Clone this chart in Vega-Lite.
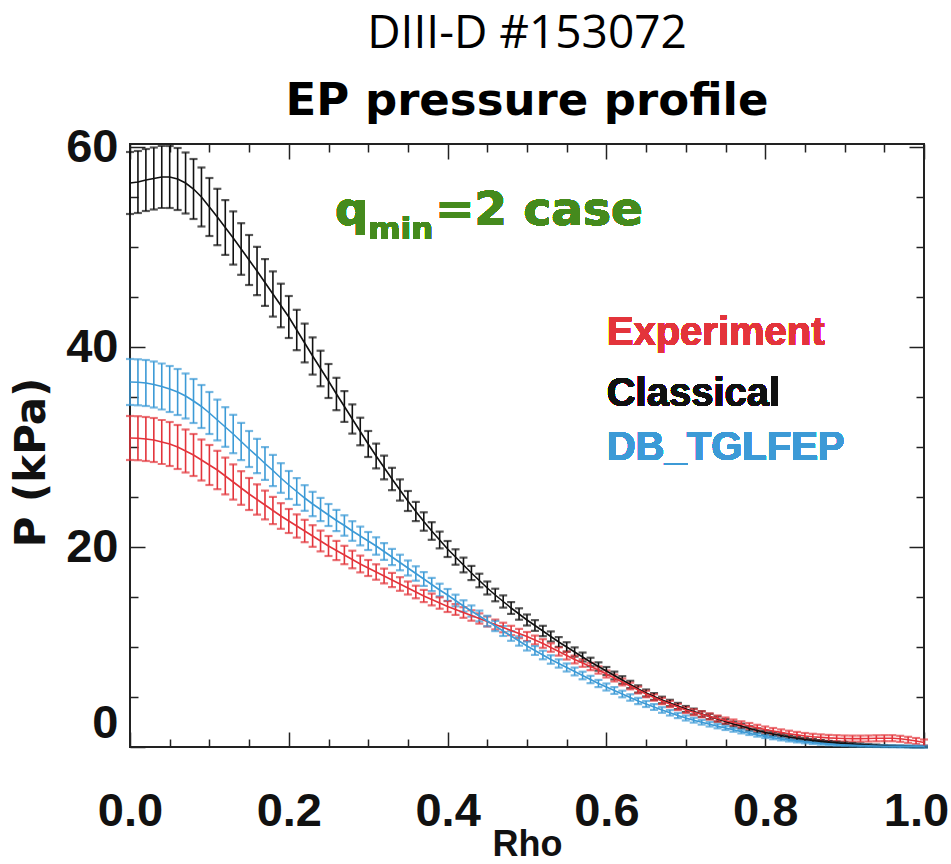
{
"$schema":"https://vega.github.io/schema/vega-lite/v6.json",
"width":794,"height":603,
"autosize":{"type":"none"},
"padding":{"left":130,"top":144,"right":27,"bottom":117},
"background":"white",
"title":{"text":"DIII-D #153072","subtitle":"EP pressure profile","anchor":"middle","frame":"group","font":"Open Sans","fontSize":46,"fontWeight":"normal","color":"#000","subtitleFont":"DejaVu Sans","subtitleFontSize":45,"subtitleFontWeight":"bold","subtitleColor":"#000","subtitlePadding":21,"offset":-2},
"config":{"view":{"stroke":"#222","strokeWidth":2},"axis":{"domain":false,"grid":false,"tickColor":"#222","tickWidth":1.5,"labelColor":"#111","titleColor":"#111"}},
"data":{"values":[
{"s":"Classical","x":0,"y":56.4,"e":3.1},{"s":"Classical","x":0.01,"y":56.5,"e":3.1},{"s":"Classical","x":0.02,"y":56.7,"e":3.1},{"s":"Classical","x":0.03,"y":56.85,"e":3.1},{"s":"Classical","x":0.04,"y":57.0,"e":3.1},{"s":"Classical","x":0.05,"y":57.0,"e":3.1},{"s":"Classical","x":0.06,"y":56.8,"e":3.1},{"s":"Classical","x":0.07,"y":56.4,"e":3.05},{"s":"Classical","x":0.08,"y":55.8,"e":3.0},{"s":"Classical","x":0.09,"y":55.0,"e":2.95},
{"s":"Classical","x":0.1,"y":54.0,"e":2.9},{"s":"Classical","x":0.11,"y":53.0,"e":2.82},{"s":"Classical","x":0.12,"y":51.95,"e":2.74},{"s":"Classical","x":0.13,"y":50.9,"e":2.66},{"s":"Classical","x":0.14,"y":49.8,"e":2.58},{"s":"Classical","x":0.15,"y":48.7,"e":2.5},{"s":"Classical","x":0.16,"y":47.6,"e":2.42},{"s":"Classical","x":0.17,"y":46.45,"e":2.34},{"s":"Classical","x":0.18,"y":45.3,"e":2.26},{"s":"Classical","x":0.19,"y":44.15,"e":2.18},
{"s":"Classical","x":0.2,"y":43.0,"e":2.1},{"s":"Classical","x":0.21,"y":41.7,"e":2.02},{"s":"Classical","x":0.22,"y":40.4,"e":1.94},{"s":"Classical","x":0.23,"y":39.1,"e":1.86},{"s":"Classical","x":0.24,"y":37.85,"e":1.78},{"s":"Classical","x":0.25,"y":36.6,"e":1.7},{"s":"Classical","x":0.26,"y":35.3,"e":1.62},{"s":"Classical","x":0.27,"y":34.05,"e":1.54},{"s":"Classical","x":0.28,"y":32.8,"e":1.46},{"s":"Classical","x":0.29,"y":31.55,"e":1.38},
{"s":"Classical","x":0.3,"y":30.3,"e":1.3},{"s":"Classical","x":0.31,"y":29.1,"e":1.24},{"s":"Classical","x":0.32,"y":27.95,"e":1.18},{"s":"Classical","x":0.33,"y":26.8,"e":1.12},{"s":"Classical","x":0.34,"y":25.7,"e":1.06},{"s":"Classical","x":0.35,"y":24.6,"e":1.0},{"s":"Classical","x":0.36,"y":23.55,"e":0.96},{"s":"Classical","x":0.37,"y":22.55,"e":0.92},{"s":"Classical","x":0.38,"y":21.6,"e":0.88},{"s":"Classical","x":0.39,"y":20.7,"e":0.84},
{"s":"Classical","x":0.4,"y":19.8,"e":0.8},{"s":"Classical","x":0.41,"y":19.0,"e":0.77},{"s":"Classical","x":0.42,"y":18.2,"e":0.74},{"s":"Classical","x":0.43,"y":17.4,"e":0.71},{"s":"Classical","x":0.44,"y":16.65,"e":0.68},{"s":"Classical","x":0.45,"y":15.9,"e":0.65},{"s":"Classical","x":0.46,"y":15.2,"e":0.63},{"s":"Classical","x":0.47,"y":14.55,"e":0.61},{"s":"Classical","x":0.48,"y":13.9,"e":0.59},{"s":"Classical","x":0.49,"y":13.3,"e":0.57},
{"s":"Classical","x":0.5,"y":12.7,"e":0.55},{"s":"Classical","x":0.51,"y":12.15,"e":0.535},{"s":"Classical","x":0.52,"y":11.6,"e":0.52},{"s":"Classical","x":0.53,"y":11.05,"e":0.505},{"s":"Classical","x":0.54,"y":10.5,"e":0.49},{"s":"Classical","x":0.55,"y":10.0,"e":0.475},{"s":"Classical","x":0.56,"y":9.5,"e":0.46},{"s":"Classical","x":0.57,"y":9.0,"e":0.445},{"s":"Classical","x":0.58,"y":8.5,"e":0.43},{"s":"Classical","x":0.59,"y":8.05,"e":0.415},
{"s":"Classical","x":0.6,"y":7.6,"e":0.4},{"s":"Classical","x":0.61,"y":7.15,"e":0.39},{"s":"Classical","x":0.62,"y":6.7,"e":0.38},{"s":"Classical","x":0.63,"y":6.25,"e":0.37},{"s":"Classical","x":0.64,"y":5.8,"e":0.36},{"s":"Classical","x":0.65,"y":5.4,"e":0.35},{"s":"Classical","x":0.66,"y":5.05,"e":0.34},{"s":"Classical","x":0.67,"y":4.7,"e":0.33},{"s":"Classical","x":0.68,"y":4.4,"e":0.32},{"s":"Classical","x":0.69,"y":4.1,"e":0.31},
{"s":"Classical","x":0.7,"y":3.8,"e":0.3},{"s":"Classical","x":0.71,"y":3.55,"e":0.29},{"s":"Classical","x":0.72,"y":3.3,"e":0.28},{"s":"Classical","x":0.73,"y":3.05,"e":0.27},{"s":"Classical","x":0.74,"y":2.8,"e":0.26},{"s":"Classical","x":0.75,"y":2.55,"e":0.25},{"s":"Classical","x":0.76,"y":2.3,"e":0.24},{"s":"Classical","x":0.77,"y":2.1,"e":0.23},{"s":"Classical","x":0.78,"y":1.85,"e":0.22},{"s":"Classical","x":0.79,"y":1.65,"e":0.21},
{"s":"Classical","x":0.8,"y":1.45,"e":0.2},{"s":"Classical","x":0.81,"y":1.3,"e":0.19},{"s":"Classical","x":0.82,"y":1.15,"e":0.18},{"s":"Classical","x":0.83,"y":1.0,"e":0.17},{"s":"Classical","x":0.84,"y":0.87,"e":0.16},{"s":"Classical","x":0.85,"y":0.75,"e":0.15},{"s":"Classical","x":0.86,"y":0.65,"e":0.14},{"s":"Classical","x":0.87,"y":0.56,"e":0.13},{"s":"Classical","x":0.88,"y":0.48,"e":0.12},{"s":"Classical","x":0.89,"y":0.41,"e":0.11},
{"s":"Classical","x":0.9,"y":0.35,"e":0.1},{"s":"Classical","x":0.91,"y":0.3,"e":0.095},{"s":"Classical","x":0.92,"y":0.25,"e":0.09},{"s":"Classical","x":0.93,"y":0.2,"e":0.085},{"s":"Classical","x":0.94,"y":0.16,"e":0.08},{"s":"Classical","x":0.95,"y":0.12,"e":0.075},{"s":"Classical","x":0.96,"y":0.09,"e":0.07},{"s":"Classical","x":0.97,"y":0.07,"e":0.065},{"s":"Classical","x":0.98,"y":0.05,"e":0.06},{"s":"Classical","x":0.99,"y":0.03,"e":0.055},{"s":"Classical","x":1.0,"y":0.02,"e":0.05},
{"s":"Experiment","x":0,"y":30.9,"e":2.2},{"s":"Experiment","x":0.01,"y":30.88,"e":2.2},{"s":"Experiment","x":0.02,"y":30.8,"e":2.2},{"s":"Experiment","x":0.03,"y":30.7,"e":2.2},{"s":"Experiment","x":0.04,"y":30.5,"e":2.2},{"s":"Experiment","x":0.05,"y":30.3,"e":2.2},{"s":"Experiment","x":0.06,"y":30.0,"e":2.2},{"s":"Experiment","x":0.07,"y":29.6,"e":2.15},{"s":"Experiment","x":0.08,"y":29.2,"e":2.1},{"s":"Experiment","x":0.09,"y":28.7,"e":2.05},
{"s":"Experiment","x":0.1,"y":28.2,"e":2.0},{"s":"Experiment","x":0.11,"y":27.7,"e":1.92},{"s":"Experiment","x":0.12,"y":27.1,"e":1.84},{"s":"Experiment","x":0.13,"y":26.5,"e":1.76},{"s":"Experiment","x":0.14,"y":25.9,"e":1.68},{"s":"Experiment","x":0.15,"y":25.3,"e":1.6},{"s":"Experiment","x":0.16,"y":24.75,"e":1.52},{"s":"Experiment","x":0.17,"y":24.2,"e":1.44},{"s":"Experiment","x":0.18,"y":23.65,"e":1.36},{"s":"Experiment","x":0.19,"y":23.1,"e":1.28},
{"s":"Experiment","x":0.2,"y":22.6,"e":1.2},{"s":"Experiment","x":0.21,"y":22.1,"e":1.16},{"s":"Experiment","x":0.22,"y":21.6,"e":1.12},{"s":"Experiment","x":0.23,"y":21.1,"e":1.08},{"s":"Experiment","x":0.24,"y":20.6,"e":1.04},{"s":"Experiment","x":0.25,"y":20.1,"e":1.0},{"s":"Experiment","x":0.26,"y":19.65,"e":0.96},{"s":"Experiment","x":0.27,"y":19.2,"e":0.92},{"s":"Experiment","x":0.28,"y":18.75,"e":0.88},{"s":"Experiment","x":0.29,"y":18.3,"e":0.84},
{"s":"Experiment","x":0.3,"y":17.9,"e":0.8},{"s":"Experiment","x":0.31,"y":17.5,"e":0.77},{"s":"Experiment","x":0.32,"y":17.1,"e":0.74},{"s":"Experiment","x":0.33,"y":16.7,"e":0.71},{"s":"Experiment","x":0.34,"y":16.3,"e":0.68},{"s":"Experiment","x":0.35,"y":15.9,"e":0.65},{"s":"Experiment","x":0.36,"y":15.5,"e":0.63},{"s":"Experiment","x":0.37,"y":15.1,"e":0.61},{"s":"Experiment","x":0.38,"y":14.75,"e":0.59},{"s":"Experiment","x":0.39,"y":14.4,"e":0.57},
{"s":"Experiment","x":0.4,"y":14.05,"e":0.55},{"s":"Experiment","x":0.41,"y":13.75,"e":0.54},{"s":"Experiment","x":0.42,"y":13.45,"e":0.53},{"s":"Experiment","x":0.43,"y":13.15,"e":0.52},{"s":"Experiment","x":0.44,"y":12.85,"e":0.51},{"s":"Experiment","x":0.45,"y":12.55,"e":0.5},{"s":"Experiment","x":0.46,"y":12.25,"e":0.49},{"s":"Experiment","x":0.47,"y":11.95,"e":0.48},{"s":"Experiment","x":0.48,"y":11.65,"e":0.47},{"s":"Experiment","x":0.49,"y":11.35,"e":0.46},
{"s":"Experiment","x":0.5,"y":11.05,"e":0.45},{"s":"Experiment","x":0.51,"y":10.7,"e":0.44},{"s":"Experiment","x":0.52,"y":10.35,"e":0.43},{"s":"Experiment","x":0.53,"y":9.95,"e":0.42},{"s":"Experiment","x":0.54,"y":9.55,"e":0.41},{"s":"Experiment","x":0.55,"y":9.15,"e":0.4},{"s":"Experiment","x":0.56,"y":8.75,"e":0.39},{"s":"Experiment","x":0.57,"y":8.4,"e":0.38},{"s":"Experiment","x":0.58,"y":8.05,"e":0.37},{"s":"Experiment","x":0.59,"y":7.7,"e":0.36},
{"s":"Experiment","x":0.6,"y":7.3,"e":0.35},{"s":"Experiment","x":0.61,"y":6.9,"e":0.345},{"s":"Experiment","x":0.62,"y":6.5,"e":0.34},{"s":"Experiment","x":0.63,"y":6.1,"e":0.335},{"s":"Experiment","x":0.64,"y":5.7,"e":0.33},{"s":"Experiment","x":0.65,"y":5.3,"e":0.325},{"s":"Experiment","x":0.66,"y":4.95,"e":0.32},{"s":"Experiment","x":0.67,"y":4.6,"e":0.315},{"s":"Experiment","x":0.68,"y":4.3,"e":0.31},{"s":"Experiment","x":0.69,"y":4.0,"e":0.305},
{"s":"Experiment","x":0.7,"y":3.7,"e":0.3},{"s":"Experiment","x":0.71,"y":3.48,"e":0.3},{"s":"Experiment","x":0.72,"y":3.27,"e":0.3},{"s":"Experiment","x":0.73,"y":3.06,"e":0.3},{"s":"Experiment","x":0.74,"y":2.85,"e":0.3},{"s":"Experiment","x":0.75,"y":2.65,"e":0.3},{"s":"Experiment","x":0.76,"y":2.45,"e":0.3},{"s":"Experiment","x":0.77,"y":2.27,"e":0.3},{"s":"Experiment","x":0.78,"y":2.1,"e":0.3},{"s":"Experiment","x":0.79,"y":1.92,"e":0.3},
{"s":"Experiment","x":0.8,"y":1.75,"e":0.3},{"s":"Experiment","x":0.81,"y":1.6,"e":0.3},{"s":"Experiment","x":0.82,"y":1.46,"e":0.3},{"s":"Experiment","x":0.83,"y":1.33,"e":0.3},{"s":"Experiment","x":0.84,"y":1.21,"e":0.3},{"s":"Experiment","x":0.85,"y":1.1,"e":0.3},{"s":"Experiment","x":0.86,"y":1.02,"e":0.3},{"s":"Experiment","x":0.87,"y":0.96,"e":0.3},{"s":"Experiment","x":0.88,"y":0.91,"e":0.3},{"s":"Experiment","x":0.89,"y":0.88,"e":0.3},
{"s":"Experiment","x":0.9,"y":0.85,"e":0.3},{"s":"Experiment","x":0.91,"y":0.84,"e":0.3},{"s":"Experiment","x":0.92,"y":0.84,"e":0.3},{"s":"Experiment","x":0.93,"y":0.85,"e":0.3},{"s":"Experiment","x":0.94,"y":0.87,"e":0.3},{"s":"Experiment","x":0.95,"y":0.88,"e":0.3},{"s":"Experiment","x":0.96,"y":0.88,"e":0.3},{"s":"Experiment","x":0.97,"y":0.82,"e":0.3},{"s":"Experiment","x":0.98,"y":0.72,"e":0.3},{"s":"Experiment","x":0.99,"y":0.6,"e":0.3},{"s":"Experiment","x":1.0,"y":0.45,"e":0.3},
{"s":"DB_TGLFEP","x":0,"y":36.5,"e":2.3},{"s":"DB_TGLFEP","x":0.01,"y":36.47,"e":2.3},{"s":"DB_TGLFEP","x":0.02,"y":36.4,"e":2.3},{"s":"DB_TGLFEP","x":0.03,"y":36.25,"e":2.3},{"s":"DB_TGLFEP","x":0.04,"y":36.05,"e":2.3},{"s":"DB_TGLFEP","x":0.05,"y":35.8,"e":2.3},{"s":"DB_TGLFEP","x":0.06,"y":35.5,"e":2.3},{"s":"DB_TGLFEP","x":0.07,"y":35.1,"e":2.25},{"s":"DB_TGLFEP","x":0.08,"y":34.6,"e":2.2},{"s":"DB_TGLFEP","x":0.09,"y":34.05,"e":2.15},
{"s":"DB_TGLFEP","x":0.1,"y":33.4,"e":2.1},{"s":"DB_TGLFEP","x":0.11,"y":32.7,"e":2.04},{"s":"DB_TGLFEP","x":0.12,"y":32.0,"e":1.98},{"s":"DB_TGLFEP","x":0.13,"y":31.3,"e":1.92},{"s":"DB_TGLFEP","x":0.14,"y":30.55,"e":1.86},{"s":"DB_TGLFEP","x":0.15,"y":29.8,"e":1.8},{"s":"DB_TGLFEP","x":0.16,"y":29.1,"e":1.72},{"s":"DB_TGLFEP","x":0.17,"y":28.35,"e":1.64},{"s":"DB_TGLFEP","x":0.18,"y":27.65,"e":1.56},{"s":"DB_TGLFEP","x":0.19,"y":26.9,"e":1.48},
{"s":"DB_TGLFEP","x":0.2,"y":26.2,"e":1.4},{"s":"DB_TGLFEP","x":0.21,"y":25.55,"e":1.34},{"s":"DB_TGLFEP","x":0.22,"y":24.9,"e":1.28},{"s":"DB_TGLFEP","x":0.23,"y":24.3,"e":1.22},{"s":"DB_TGLFEP","x":0.24,"y":23.75,"e":1.16},{"s":"DB_TGLFEP","x":0.25,"y":23.2,"e":1.1},{"s":"DB_TGLFEP","x":0.26,"y":22.65,"e":1.06},{"s":"DB_TGLFEP","x":0.27,"y":22.15,"e":1.02},{"s":"DB_TGLFEP","x":0.28,"y":21.6,"e":0.98},{"s":"DB_TGLFEP","x":0.29,"y":21.1,"e":0.94},
{"s":"DB_TGLFEP","x":0.3,"y":20.6,"e":0.9},{"s":"DB_TGLFEP","x":0.31,"y":20.1,"e":0.87},{"s":"DB_TGLFEP","x":0.32,"y":19.55,"e":0.84},{"s":"DB_TGLFEP","x":0.33,"y":19.0,"e":0.81},{"s":"DB_TGLFEP","x":0.34,"y":18.45,"e":0.78},{"s":"DB_TGLFEP","x":0.35,"y":17.9,"e":0.75},{"s":"DB_TGLFEP","x":0.36,"y":17.35,"e":0.72},{"s":"DB_TGLFEP","x":0.37,"y":16.8,"e":0.69},{"s":"DB_TGLFEP","x":0.38,"y":16.25,"e":0.66},{"s":"DB_TGLFEP","x":0.39,"y":15.7,"e":0.63},
{"s":"DB_TGLFEP","x":0.4,"y":15.2,"e":0.6},{"s":"DB_TGLFEP","x":0.41,"y":14.65,"e":0.585},{"s":"DB_TGLFEP","x":0.42,"y":14.1,"e":0.57},{"s":"DB_TGLFEP","x":0.43,"y":13.6,"e":0.555},{"s":"DB_TGLFEP","x":0.44,"y":13.1,"e":0.54},{"s":"DB_TGLFEP","x":0.45,"y":12.6,"e":0.525},{"s":"DB_TGLFEP","x":0.46,"y":12.1,"e":0.51},{"s":"DB_TGLFEP","x":0.47,"y":11.6,"e":0.495},{"s":"DB_TGLFEP","x":0.48,"y":11.1,"e":0.48},{"s":"DB_TGLFEP","x":0.49,"y":10.6,"e":0.465},
{"s":"DB_TGLFEP","x":0.5,"y":10.1,"e":0.45},{"s":"DB_TGLFEP","x":0.51,"y":9.65,"e":0.44},{"s":"DB_TGLFEP","x":0.52,"y":9.2,"e":0.43},{"s":"DB_TGLFEP","x":0.53,"y":8.75,"e":0.42},{"s":"DB_TGLFEP","x":0.54,"y":8.35,"e":0.41},{"s":"DB_TGLFEP","x":0.55,"y":7.95,"e":0.4},{"s":"DB_TGLFEP","x":0.56,"y":7.55,"e":0.39},{"s":"DB_TGLFEP","x":0.57,"y":7.15,"e":0.38},{"s":"DB_TGLFEP","x":0.58,"y":6.75,"e":0.37},{"s":"DB_TGLFEP","x":0.59,"y":6.35,"e":0.36},
{"s":"DB_TGLFEP","x":0.6,"y":6.0,"e":0.35},{"s":"DB_TGLFEP","x":0.61,"y":5.65,"e":0.34},{"s":"DB_TGLFEP","x":0.62,"y":5.3,"e":0.33},{"s":"DB_TGLFEP","x":0.63,"y":4.95,"e":0.32},{"s":"DB_TGLFEP","x":0.64,"y":4.6,"e":0.31},{"s":"DB_TGLFEP","x":0.65,"y":4.3,"e":0.3},{"s":"DB_TGLFEP","x":0.66,"y":4.0,"e":0.29},{"s":"DB_TGLFEP","x":0.67,"y":3.7,"e":0.28},{"s":"DB_TGLFEP","x":0.68,"y":3.42,"e":0.27},{"s":"DB_TGLFEP","x":0.69,"y":3.15,"e":0.26},
{"s":"DB_TGLFEP","x":0.7,"y":2.9,"e":0.25},{"s":"DB_TGLFEP","x":0.71,"y":2.68,"e":0.24},{"s":"DB_TGLFEP","x":0.72,"y":2.47,"e":0.23},{"s":"DB_TGLFEP","x":0.73,"y":2.27,"e":0.22},{"s":"DB_TGLFEP","x":0.74,"y":2.08,"e":0.21},{"s":"DB_TGLFEP","x":0.75,"y":1.9,"e":0.2},{"s":"DB_TGLFEP","x":0.76,"y":1.72,"e":0.19},{"s":"DB_TGLFEP","x":0.77,"y":1.54,"e":0.18},{"s":"DB_TGLFEP","x":0.78,"y":1.37,"e":0.17},{"s":"DB_TGLFEP","x":0.79,"y":1.2,"e":0.16},
{"s":"DB_TGLFEP","x":0.8,"y":1.05,"e":0.15},{"s":"DB_TGLFEP","x":0.81,"y":0.92,"e":0.145},{"s":"DB_TGLFEP","x":0.82,"y":0.8,"e":0.14},{"s":"DB_TGLFEP","x":0.83,"y":0.69,"e":0.135},{"s":"DB_TGLFEP","x":0.84,"y":0.59,"e":0.13},{"s":"DB_TGLFEP","x":0.85,"y":0.5,"e":0.125},{"s":"DB_TGLFEP","x":0.86,"y":0.42,"e":0.12},{"s":"DB_TGLFEP","x":0.87,"y":0.35,"e":0.115},{"s":"DB_TGLFEP","x":0.88,"y":0.29,"e":0.11},{"s":"DB_TGLFEP","x":0.89,"y":0.24,"e":0.105},
{"s":"DB_TGLFEP","x":0.9,"y":0.2,"e":0.1},{"s":"DB_TGLFEP","x":0.91,"y":0.17,"e":0.1},{"s":"DB_TGLFEP","x":0.92,"y":0.14,"e":0.1},{"s":"DB_TGLFEP","x":0.93,"y":0.12,"e":0.1},{"s":"DB_TGLFEP","x":0.94,"y":0.1,"e":0.1},{"s":"DB_TGLFEP","x":0.95,"y":0.08,"e":0.1},{"s":"DB_TGLFEP","x":0.96,"y":0.07,"e":0.1},{"s":"DB_TGLFEP","x":0.97,"y":0.06,"e":0.1},{"s":"DB_TGLFEP","x":0.98,"y":0.05,"e":0.1},{"s":"DB_TGLFEP","x":0.99,"y":0.04,"e":0.1},{"s":"DB_TGLFEP","x":1.0,"y":0.03,"e":0.1}
]},
"layer":[
{"mark":{"type":"errorbar","ticks":{"size":8,"thickness":2.2},"thickness":1.6},
 "encoding":{
  "x":{"field":"x","type":"quantitative","scale":{"domain":[0,1],"nice":false,"zero":false},
   "axis":{"orient":"bottom","values":[0,0.05,0.1,0.15,0.2,0.25,0.3,0.35,0.4,0.45,0.5,0.55,0.6,0.65,0.7,0.75,0.8,0.85,0.9,0.95,1],
    "labelExpr":"abs(datum.value*5-round(datum.value*5))<0.001 ? format(datum.value,'.1f') : ''",
    "tickSize":{"condition":{"test":"abs(datum.value*5-round(datum.value*5))<0.001","value":-15},"value":-8},
    "labelOffset":{"condition":{"test":"datum.value > 0.99","value":-8},"value":0},
    "labelFlush":false,"labelOverlap":false,
    "labelFont":"Liberation Sans","labelFontWeight":"bold","labelFontSize":47,"labelPadding":56,
    "title":"Rho","titleFont":"Liberation Sans","titleFontWeight":"bold","titleFontSize":36,"titleBaseline":"alphabetic","titlePadding":14}},
  "y":{"field":"y","type":"quantitative","scale":{"domain":[0,60.3],"nice":false,"zero":false},
   "axis":{"orient":"left","values":[0,5,10,15,20,25,30,35,40,45,50,55,60],
    "labelExpr":"datum.value % 20 === 0 ? datum.label : ''",
    "tickSize":{"condition":{"test":"datum.value % 20 === 0","value":-15},"value":-8},
    "labelFlush":true,"labelOverlap":false,
    "labelFont":"Liberation Sans","labelFontWeight":"bold","labelFontSize":47,"labelPadding":27,
    "title":"P (kPa)","titleFont":"DejaVu Sans","titleFontWeight":"bold","titleFontSize":42,"titlePadding":12,"titleY":318}},
  "yError":{"field":"e"},
  "color":{"field":"s","type":"nominal","scale":{"domain":["Classical","Experiment","DB_TGLFEP"],"range":["#111111","#e3343b","#3c9ad6"]},"legend":null}
 }},
{"mark":{"type":"line","strokeWidth":1.6},
 "encoding":{
  "x":{"field":"x","type":"quantitative","scale":{"domain":[0,1],"nice":false,"zero":false},
   "axis":{"orient":"top","values":[0,0.05,0.1,0.15,0.2,0.25,0.3,0.35,0.4,0.45,0.5,0.55,0.6,0.65,0.7,0.75,0.8,0.85,0.9,0.95,1],"labels":false,"title":null,
    "tickSize":{"condition":{"test":"abs(datum.value*5-round(datum.value*5))<0.001","value":-15},"value":-8}}},
  "y":{"field":"y","type":"quantitative","scale":{"domain":[0,60.3],"nice":false,"zero":false},
   "axis":{"orient":"right","values":[0,5,10,15,20,25,30,35,40,45,50,55,60],"labels":false,"title":null,
    "tickSize":{"condition":{"test":"datum.value % 20 === 0","value":-15},"value":-8}}},
  "color":{"field":"s","type":"nominal","legend":null},
  "detail":{"field":"s"}
 }},
{"mark":{"type":"text","text":"Experiment","align":"left","baseline":"alphabetic","font":"Liberation Sans","fontSize":40,"fontWeight":"bold"},
 "encoding":{"x":{"datum":0.6004,"type":"quantitative","axis":null},"y":{"datum":40.17,"type":"quantitative","axis":null},"color":{"datum":"Experiment","type":"nominal","legend":null}}},
{"mark":{"type":"text","text":"Classical","align":"left","baseline":"alphabetic","font":"Liberation Sans","fontSize":40,"fontWeight":"bold"},
 "encoding":{"x":{"datum":0.6004,"type":"quantitative","axis":null},"y":{"datum":34.07,"type":"quantitative","axis":null},"color":{"datum":"Classical","type":"nominal","legend":null}}},
{"mark":{"type":"text","text":"DB_TGLFEP","align":"left","baseline":"alphabetic","font":"Liberation Sans","fontSize":40,"fontWeight":"bold"},
 "encoding":{"x":{"datum":0.6004,"type":"quantitative","axis":null},"y":{"datum":28.67,"type":"quantitative","axis":null},"color":{"datum":"DB_TGLFEP","type":"nominal","legend":null}}},
{"mark":{"type":"text","text":"q","align":"left","baseline":"alphabetic","font":"DejaVu Sans","fontSize":46,"fontWeight":"bold","color":"#458a1d"},
 "encoding":{"x":{"datum":0.2582,"type":"quantitative","axis":null},"y":{"datum":52.2,"type":"quantitative","axis":null}}},
{"mark":{"type":"text","text":"min","align":"left","baseline":"alphabetic","font":"DejaVu Sans","fontSize":31,"fontWeight":"bold","color":"#458a1d"},
 "encoding":{"x":{"datum":0.3,"type":"quantitative","axis":null},"y":{"datum":50.8,"type":"quantitative","axis":null}}},
{"mark":{"type":"text","text":"=2 case","align":"left","baseline":"alphabetic","font":"DejaVu Sans","fontSize":47,"fontWeight":"bold","color":"#458a1d"},
 "encoding":{"x":{"datum":0.3841,"type":"quantitative","axis":null},"y":{"datum":52.17,"type":"quantitative","axis":null}}}
],
"resolve":{"axis":{"x":"independent","y":"independent"}}
}
